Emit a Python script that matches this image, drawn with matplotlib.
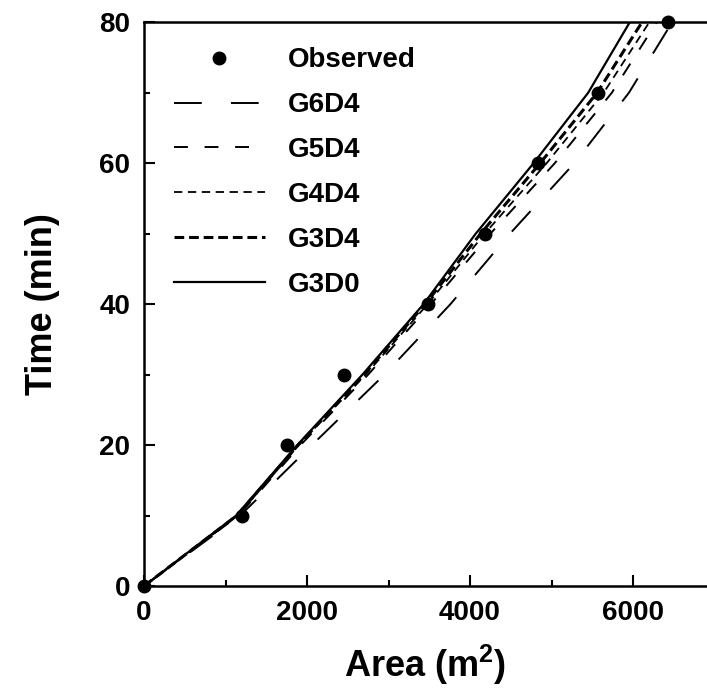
import numpy as np
import matplotlib
matplotlib.use("Agg")
import matplotlib.pyplot as plt
from matplotlib.ticker import MultipleLocator

plt.rcParams['font.family'] = ['Liberation Sans', 'DejaVu Sans']
plt.rcParams['font.weight'] = 'bold'
plt.rcParams['mathtext.fontset'] = 'custom'
plt.rcParams['mathtext.bf'] = 'Liberation Sans:bold'
plt.rcParams['mathtext.rm'] = 'Liberation Sans:bold'
plt.rcParams['mathtext.default'] = 'bf'
plt.rcParams['lines.scale_dashes'] = False

# observed points
obs_area = [0, 1200, 1750, 2450, 3480, 4180, 4840, 5570, 6430]
obs_time = [0, 10, 20, 30, 40, 50, 60, 70, 80]

# simulated curves, area read at each time step
sim_time = [0, 10, 20, 30, 40, 50, 60, 70, 80]
g6d4 = [0, 1180, 2060, 2950, 3760, 4490, 5280, 5950, 6480]
g5d4 = [0, 1160, 1920, 2750, 3520, 4250, 5040, 5740, 6290]
g4d4 = [0, 1150, 1900, 2720, 3480, 4180, 4940, 5640, 6200]
g3d4 = [0, 1140, 1890, 2700, 3450, 4130, 4860, 5560, 6110]
g3d0 = [0, 1130, 1880, 2680, 3430, 4070, 4780, 5450, 5960]

fig = plt.figure(figsize=(7.07, 6.96), dpi=100)
ax = fig.add_axes([0.2037, 0.158, 0.7963, 0.81])

ax.plot(obs_area, obs_time, 'o', color='black', markersize=9, label='Observed', zorder=5, clip_on=False)
ax.plot(g6d4, sim_time, color='black', lw=1.4, dashes=(20, 21), label='G6D4')
ax.plot(g5d4, sim_time, color='black', lw=1.4, dashes=(10, 12), label='G5D4')
ax.plot(g4d4, sim_time, color='black', lw=1.3, dashes=(6, 4), label='G4D4')
ax.plot(g3d4, sim_time, color='black', lw=2.2, dashes=(7, 3.5), label='G3D4')
ax.plot(g3d0, sim_time, color='black', lw=1.6, label='G3D0')

ax.set_xlim(0, 6908)
ax.set_ylim(0, 80)
ax.xaxis.set_major_locator(MultipleLocator(2000))
ax.xaxis.set_minor_locator(MultipleLocator(1000))
ax.yaxis.set_major_locator(MultipleLocator(20))
ax.yaxis.set_minor_locator(MultipleLocator(10))
ax.tick_params(which='both', direction='in', width=1.5, labelsize=20, pad=10)
ax.tick_params(which='major', length=8)
ax.tick_params(which='minor', length=4)

for s in ['left', 'bottom', 'top']:
    ax.spines[s].set_linewidth(1.8)
ax.spines['right'].set_visible(False)

ax.set_xlabel(r'Area (m$^{2}$)', fontsize=26, fontweight='bold', labelpad=12)
ax.set_ylabel('Time (min)', fontsize=26, fontweight='bold', labelpad=28)

ax.legend(loc='upper left', frameon=False, fontsize=20, handlelength=3.3,
          handletextpad=0.8, labelspacing=0.68, borderaxespad=0.3,
          bbox_to_anchor=(0.018, 0.99))

fig.savefig('out.png', dpi=100)
